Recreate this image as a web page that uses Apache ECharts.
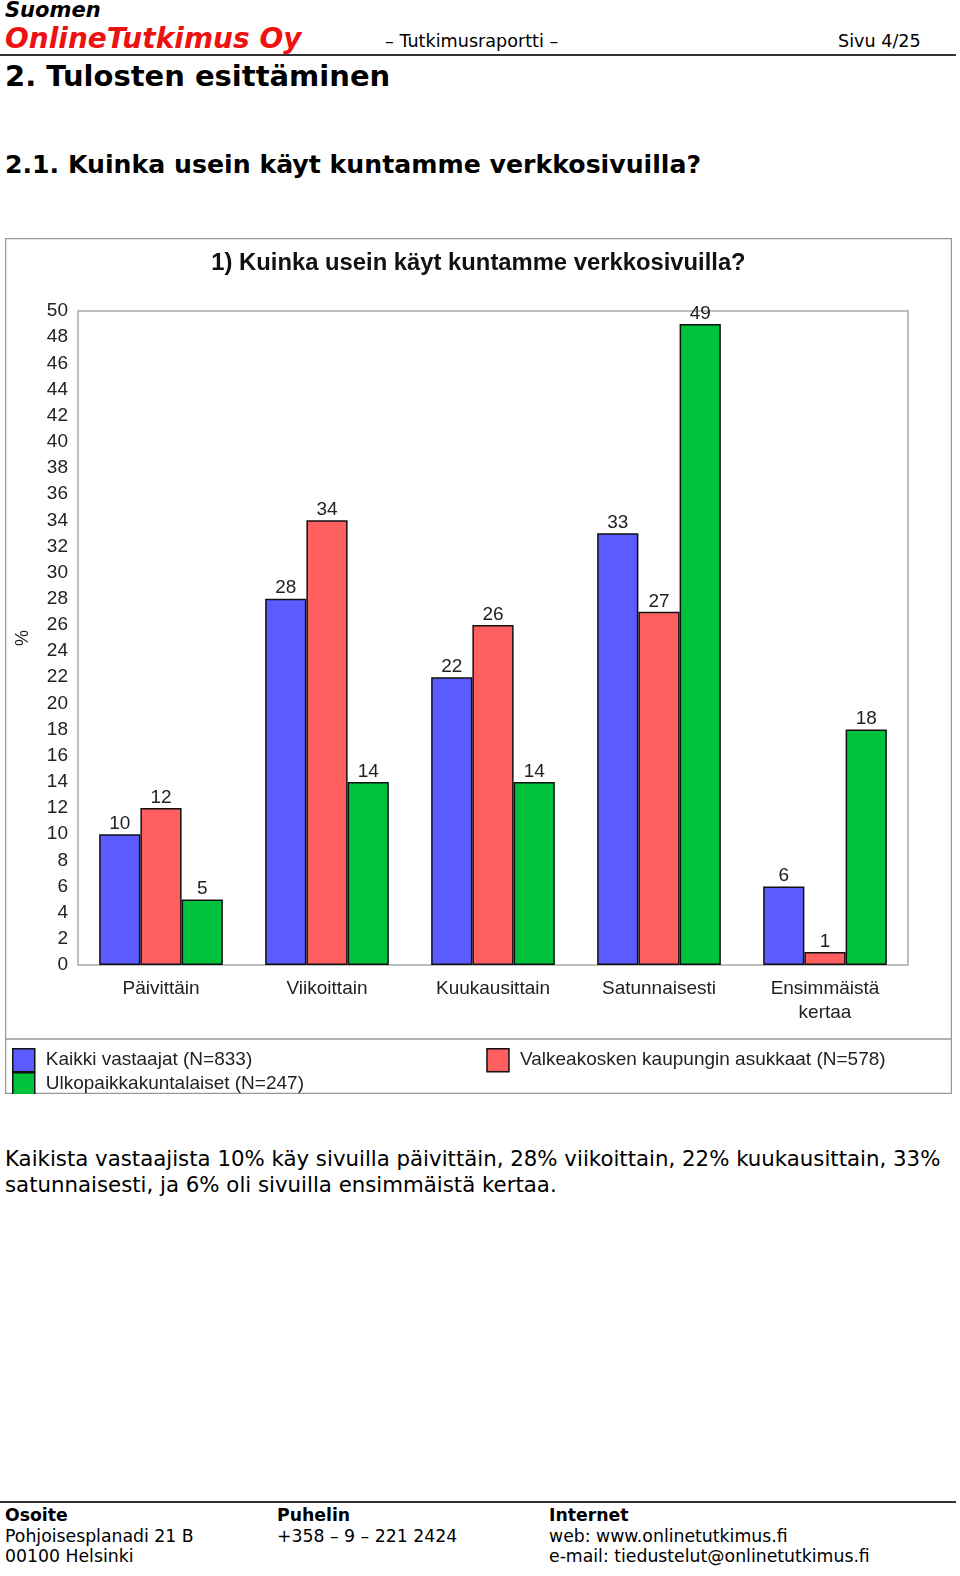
<!DOCTYPE html>
<html><head><meta charset="utf-8">
<meta name="viewport" content="width=960">
<script src="https://cdn.jsdelivr.net/npm/echarts@6/dist/echarts.min.js"></script>
<style>
html,body{margin:0;padding:0;background:#fff;width:960px;height:1576px;overflow:hidden;}
body{position:relative;font-family:"DejaVu Sans",Verdana,sans-serif;color:#000;}
.t{position:absolute;white-space:nowrap;line-height:1;}
.hr{position:absolute;height:0;border-top:2px solid #333;}
</style></head><body>
<div class="t" style="left:5px;top:0px;font-size:21px;font-weight:bold;font-style:italic;">Suomen</div>
<div class="t" style="left:5px;top:25px;font-size:28px;font-weight:bold;font-style:italic;color:#ee1111;">OnlineTutkimus Oy</div>
<div class="t" style="left:385px;top:33px;font-size:17.6px;">– Tutkimusraportti –</div>
<div class="t" style="left:838px;top:33px;font-size:17.6px;">Sivu 4/25</div>
<div class="hr" style="left:0;top:54px;width:956px;"></div>
<div class="t" style="left:5px;top:62px;font-size:29px;font-weight:bold;">2. Tulosten esittäminen</div>
<div class="t" style="left:5px;top:152px;font-size:25.2px;font-weight:bold;">2.1. Kuinka usein käyt kuntamme verkkosivuilla?</div>
<div id="chart" style="position:absolute;left:5px;top:238px;width:947px;height:856px;"></div>
<div class="t" style="left:5px;top:1148px;font-size:21.3px;">Kaikista vastaajista 10% käy sivuilla päivittäin, 28% viikoittain, 22% kuukausittain, 33%</div>
<div class="t" style="left:5px;top:1174px;font-size:21.3px;">satunnaisesti, ja 6% oli sivuilla ensimmäistä kertaa.</div>
<div class="hr" style="left:0;top:1501px;width:956px;"></div>
<div class="t" style="left:5px;top:1507px;font-size:17.3px;font-weight:bold;">Osoite</div>
<div class="t" style="left:5px;top:1528px;font-size:17.3px;">Pohjoisesplanadi 21 B</div>
<div class="t" style="left:5px;top:1548px;font-size:17.3px;">00100 Helsinki</div>
<div class="t" style="left:277px;top:1507px;font-size:17.3px;font-weight:bold;">Puhelin</div>
<div class="t" style="left:277px;top:1528px;font-size:17.3px;">+358 – 9 – 221 2424</div>
<div class="t" style="left:549px;top:1507px;font-size:17.3px;font-weight:bold;">Internet</div>
<div class="t" style="left:549px;top:1528px;font-size:17.3px;">web: www.onlinetutkimus.fi</div>
<div class="t" style="left:549px;top:1548px;font-size:17.3px;">e-mail: tiedustelut@onlinetutkimus.fi</div>
<script>
const chartTitle = '1) Kuinka usein käyt kuntamme verkkosivuilla?';
const categories = ['Päivittäin', 'Viikoittain', 'Kuukausittain', 'Satunnaisesti', 'Ensimmäistä\nkertaa'];
const seriesNames = ['Kaikki vastaajat (N=833)', 'Valkeakosken kaupungin asukkaat (N=578)', 'Ulkopaikkakuntalaiset (N=247)'];
const allRespondents = [10, 28, 22, 33, 6];
const residents = [12, 34, 26, 27, 1];
const outsiders = [5, 14, 14, 49, 18];
const yMin = 0, yMax = 50, yStep = 2;

const colors = ['#5b5bff', '#ff5f5f', '#00c23c'];
const F = '"Liberation Sans",Arial,sans-serif';
const chart = echarts.init(document.getElementById('chart'), null, {renderer: 'canvas'});
const values = [allRespondents, residents, outsiders];
chart.setOption({
  animation: false,
  backgroundColor: '#fff',
  title: {text: chartTitle, left: 'center', top: 8, textStyle: {fontFamily: F, fontWeight: 'bold', fontSize: 23.8, color: '#111'}},
  graphic: [
    {type: 'rect', shape: {x: 0.5, y: 0.5, width: 946, height: 855}, style: {fill: 'none', stroke: '#999', lineWidth: 1.5}, silent: true},
    {type: 'line', shape: {x1: 0, y1: 801, x2: 947, y2: 801}, style: {stroke: '#999', lineWidth: 1.5}, silent: true}
  ],
  grid: {left: 73, right: 44, top: 73, bottom: 129, show: true, borderColor: '#aaa', borderWidth: 1.5, containLabel: false},
  legend: [
    {data: [seriesNames[0], seriesNames[1]], left: 7, top: 810, padding: 0, itemWidth: 22, itemHeight: 23, itemGap: 234, icon: 'rect',
     itemStyle: {borderColor: '#111', borderWidth: 1.5},
     textStyle: {fontFamily: F, fontSize: 19, color: '#222', padding: [0, 0, 0, 6]}},
    {data: [seriesNames[2]], left: 7, top: 834, padding: 0, itemWidth: 22, itemHeight: 23, icon: 'rect',
     itemStyle: {borderColor: '#111', borderWidth: 1.5},
     textStyle: {fontFamily: F, fontSize: 19, color: '#222', padding: [0, 0, 0, 6]}}
  ],
  xAxis: {type: 'category', data: categories,
    axisLine: {show: false}, axisTick: {show: false},
    axisLabel: {fontFamily: F, fontSize: 19, color: '#222', margin: 12, lineHeight: 24}},
  yAxis: {type: 'value', min: yMin, max: yMax, interval: yStep,
    name: '%', nameLocation: 'middle', nameGap: 46, nameRotate: 90,
    nameTextStyle: {fontFamily: F, fontSize: 18, color: '#222'},
    axisLine: {show: false}, axisTick: {show: false}, splitLine: {show: false},
    axisLabel: {fontFamily: F, fontSize: 19, color: '#222', margin: 10}},
  series: values.map((v, i) => ({
    name: seriesNames[i], type: 'bar', data: v, barGap: '0%', barCategoryGap: '25.5%',
    itemStyle: {color: colors[i], borderColor: '#111', borderWidth: 1.5},
    label: {show: true, position: 'top', distance: 1, fontFamily: F, fontSize: 19, color: '#222'}
  }))
});
</script>
</body></html>
